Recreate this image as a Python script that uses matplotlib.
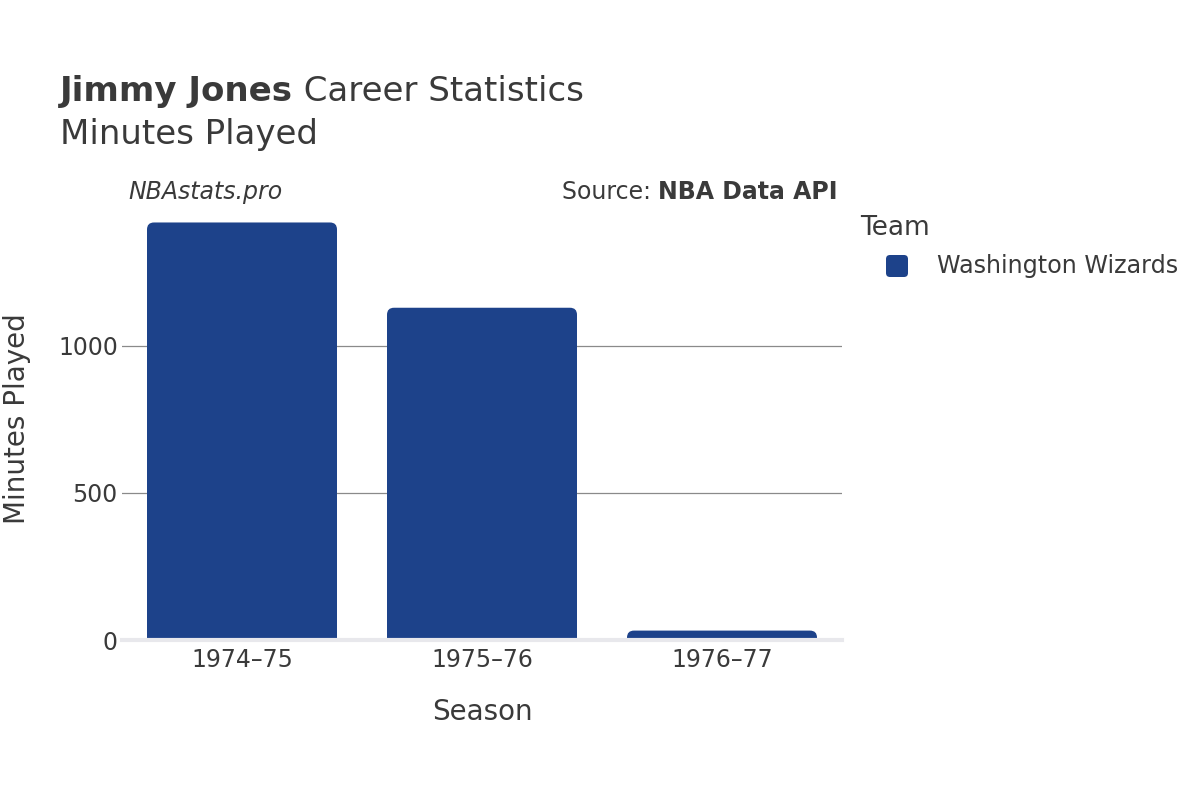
import matplotlib
matplotlib.use("Agg")
import matplotlib.pyplot as plt
from matplotlib.patches import FancyBboxPatch
import numpy as np

plt.rcParams["font.family"] = ["DejaVu Sans"]

seasons = ["1974–75", "1975–76", "1976–77"]
minutes = [1420, 1130, 32]
team = "Washington Wizards"
bar_color = "#1d428a"
text_color = "#3a3a3a"
yticks = [0, 500, 1000]

W, H = 1200, 800
fig = plt.figure(figsize=(12, 8), dpi=100)
fig.patch.set_facecolor("white")

def px(x, y):
    return x / W, 1 - y / H

ax_left, ax_right, ax_top, ax_bottom = 122, 842, 201.6, 640
ax = fig.add_axes([ax_left / W, 1 - ax_bottom / H, (ax_right - ax_left) / W, (ax_bottom - ax_top) / H])
ax.set_xlim(-0.5, len(seasons) - 0.5)
ymax = max(minutes) * 1.05
ax.set_ylim(0, ymax)
for s in ax.spines.values():
    s.set_visible(False)
ax.set_facecolor("white")

# gridlines
for t in yticks[1:]:
    ax.axhline(t, color="#8a8a8a", lw=0.9, zorder=1)

# bars with rounded corners
bw = 190 / 240
rad_px = 7
ppx_x = (ax_right - ax_left) / len(seasons)
ppx_y = (ax_bottom - ax_top) / ymax
rx = rad_px / ppx_x
ry = rad_px / ppx_y
for i, v in enumerate(minutes):
    p = FancyBboxPatch((i - bw / 2, -ry * 1.5), bw, v + ry * 1.5,
                       boxstyle=f"round,pad=0,rounding_size={rx}",
                       mutation_aspect=ry / rx,
                       facecolor=bar_color, edgecolor="none", zorder=2, clip_on=True)
    ax.add_patch(p)

# zero line
ax.axhline(0, color="#e8e8ec", lw=3, zorder=3, clip_on=False)

ax.set_xticks(range(len(seasons)))
ax.set_xticklabels(seasons)
ax.set_yticks(yticks)
ax.set_yticklabels([str(t) for t in yticks])
ax.tick_params(axis="both", length=0, labelsize=17, colors=text_color)
ax.tick_params(axis="x", pad=6)
ax.tick_params(axis="y", pad=3)

# axis titles
fig.text(*px(482, 712), "Season", ha="center", va="center", fontsize=20, color=text_color)
fig.text(*px(17, 419), "Minutes Played", ha="center", va="center", rotation=90, fontsize=20, color=text_color)

# title
t1 = fig.text(*px(60, 101), "Jimmy Jones", ha="left", va="baseline", fontsize=24.5,
              fontweight="bold", color=text_color)
fig.canvas.draw()
bb = t1.get_window_extent()
fig.text(bb.x1 / W, 1 - 101 / H, " Career Statistics", ha="left", va="baseline", fontsize=24.5,
         color=text_color)
fig.text(*px(60, 144), "Minutes Played", ha="left", va="baseline", fontsize=24.5, color=text_color)

# annotations
fig.text(*px(128, 199), "NBAstats.pro", ha="left", va="baseline", fontsize=17, style="italic",
         color=text_color)
s2 = fig.text(*px(838, 199), "NBA Data API", ha="right", va="baseline", fontsize=17,
              fontweight="bold", color=text_color)
fig.canvas.draw()
bb2 = s2.get_window_extent()
fig.text(bb2.x0 / W, 1 - 199 / H, "Source: ", ha="right", va="baseline", fontsize=17,
         color=text_color)

# legend
fig.text(*px(860, 235), "Team", ha="left", va="baseline", fontsize=19, color=text_color)
lx0, ly0 = px(886, 277)
leg = FancyBboxPatch((lx0, ly0), 22 / W, 22 / H,
                     boxstyle=f"round,pad=0,rounding_size={4 / W}",
                     mutation_aspect=W / H,
                     transform=fig.transFigure, facecolor=bar_color, edgecolor="none")
fig.add_artist(leg)
fig.text(*px(937, 266), team, ha="left", va="center", fontsize=17.2, color=text_color)

fig.savefig("out.png", dpi=100, facecolor="white")
